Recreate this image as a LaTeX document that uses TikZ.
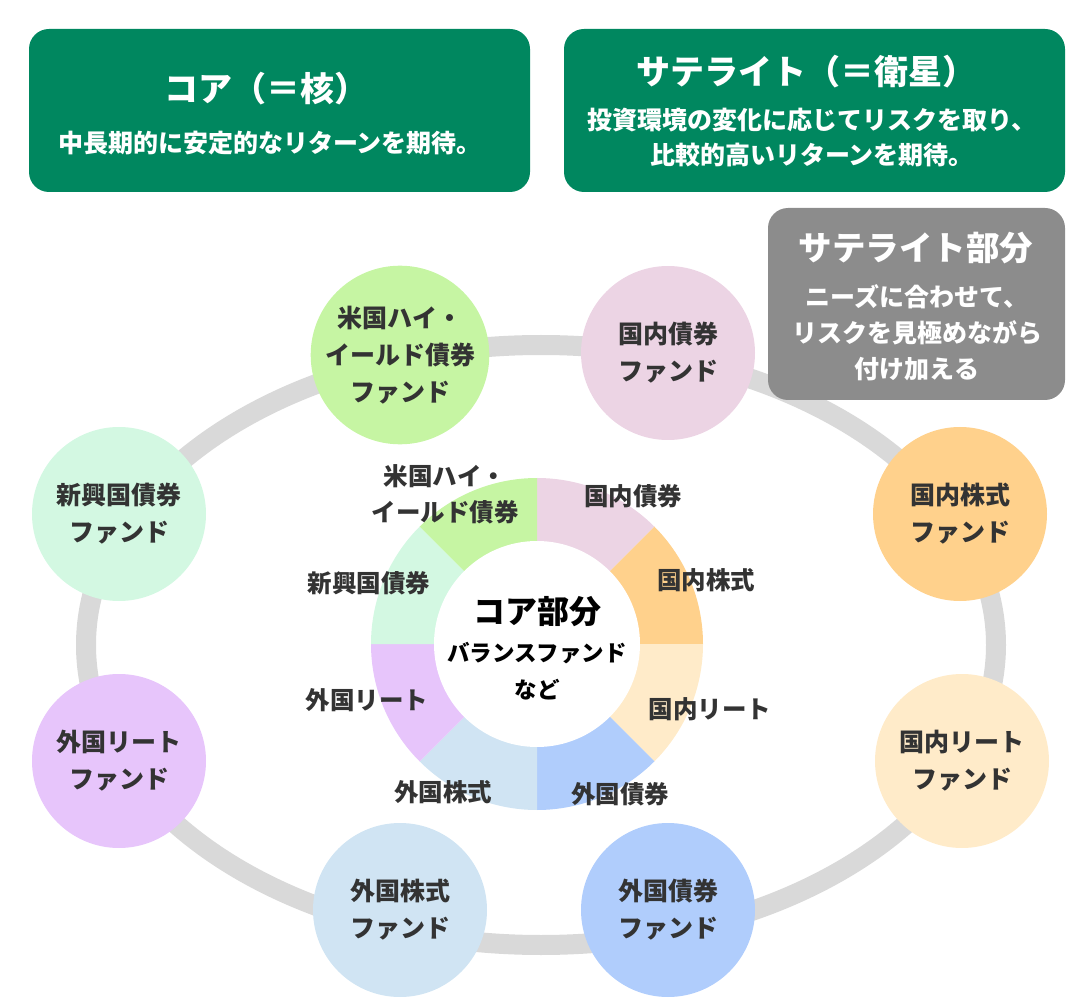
\documentclass[tikz,border=0pt]{standalone}
\usepackage{fontspec}
\setmainfont{Noto Sans CJK JP}
\usetikzlibrary{positioning}
\definecolor{boxgreen}{HTML}{00875F}
\definecolor{boxgray}{HTML}{8C8C8C}
\definecolor{ringgray}{HTML}{D9D9D9}
\definecolor{txt}{HTML}{333333}
\definecolor{cUSH}{HTML}{C6F5A3}
\definecolor{cJPB}{HTML}{ECD4E4}
\definecolor{cJPS}{HTML}{FFD18C}
\definecolor{cJPR}{HTML}{FFEBC9}
\definecolor{cFB}{HTML}{B0CDFC}
\definecolor{cFS}{HTML}{D0E4F3}
\definecolor{cFR}{HTML}{E7C5FB}
\definecolor{cEMB}{HTML}{D3F8E2}
\newcommand{\fsz}[2]{\fontsize{#1}{#2}\selectfont\bfseries}
\tikzset{
  fund/.style={circle,minimum size=174pt,inner sep=0pt,align=center,
    text=txt,font=\fsz{25}{37}},
  seglabel/.style={align=center,text=txt,font=\fsz{24.5}{36}},
  infobox/.style={rounded corners=20pt,inner sep=0pt},
  boxtitle/.style={text=white,font=\fsz{34}{40}},
  boxtext/.style={text=white,align=center,font=\fsz{25}{35}},
  ring/.style={draw=ringgray,line width=20pt}
}
\begin{document}
\begin{tikzpicture}[x=1pt,y=-1pt]
\useasboundingbox (0,0) rectangle (1080,1000);
% top boxes
\node[infobox,fill=boxgreen,minimum width=501pt,minimum height=163pt] (core) at (279.5,110.5) {};
\node[boxtitle] (coreT) at (266,89) {コア（＝核）};
\node[boxtext] (coreS) at (270,143) {中長期的に安定的なリターンを期待。};
\node[infobox,fill=boxgreen,minimum width=501pt,minimum height=163pt] (sat) at (814.5,110.5) {};
\node[boxtitle] (satT) at (806,72) {サテライト（＝衛星）};
\node[boxtext] (satS) at (812,138) {投資環境の変化に応じてリスクを取り、\\比較的高いリターンを期待。};
% ring
\draw[ring] (541,645) ellipse [x radius=455, y radius=300];
\node[infobox,fill=boxgray,minimum width=297pt,minimum height=192pt] (satpart) at (916.5,304) {};
\node[boxtitle,font=\fsz{33.5}{40}] (satpartT) at (916,248) {サテライト部分};
\node[boxtext,font=\fsz{25}{36}] (satpartS) at (917,333) {ニーズに合わせて、\\リスクを見極めながら\\付け加える};
% satellite funds
\node[fund,fill=cUSH] (USH) at (400,355) {米国ハイ・\\イールド債券\\ファンド};
\node[fund,fill=cJPB] (JPB) at (668,353) {国内債券\\ファンド};
\node[fund,fill=cJPS] (JPS) at (960,514) {国内株式\\ファンド};
\node[fund,fill=cJPR] (JPR) at (962,761) {国内リート\\ファンド};
\node[fund,fill=cFB] (FB) at (668,910) {外国債券\\ファンド};
\node[fund,fill=cFS] (FS) at (400,910) {外国株式\\ファンド};
\node[fund,fill=cFR] (FR) at (119,761) {外国リート\\ファンド};
\node[fund,fill=cEMB] (EMB) at (119,514) {新興国債券\\ファンド};
% core donut
\coordinate (D) at (537,644);
\foreach \a/\c in {270/cJPB,315/cJPS,0/cJPR,45/cFB,90/cFS,135/cFR,180/cEMB,225/cUSH}
  \fill[\c] (D) -- ++(\a:166) arc[start angle=\a, end angle=\a+45, radius=166] -- cycle;
\node[circle,fill=white,minimum size=206pt,inner sep=0pt] (hub) at (D) {};
\node[font=\fsz{32}{36}] (hubT) at (537,612) {コア部分};
\node[font=\fsz{22.5}{37},align=center] (hubS) at (537,671) {バランスファンド\\など};
\node[seglabel] (lJPB) at (633,496) {国内債券};
\node[seglabel] (lJPS) at (706,580) {国内株式};
\node[seglabel] (lJPR) at (710,709) {国内リート};
\node[seglabel] (lFB) at (620,794) {外国債券};
\node[seglabel] (lFS) at (443,792) {外国株式};
\node[seglabel] (lFR) at (367,700) {外国リート};
\node[seglabel] (lEMB) at (369,583) {新興国債券};
\node[seglabel] (lUSH) at (445,494) {米国ハイ・\\イールド債券};
\end{tikzpicture}
\end{document}
